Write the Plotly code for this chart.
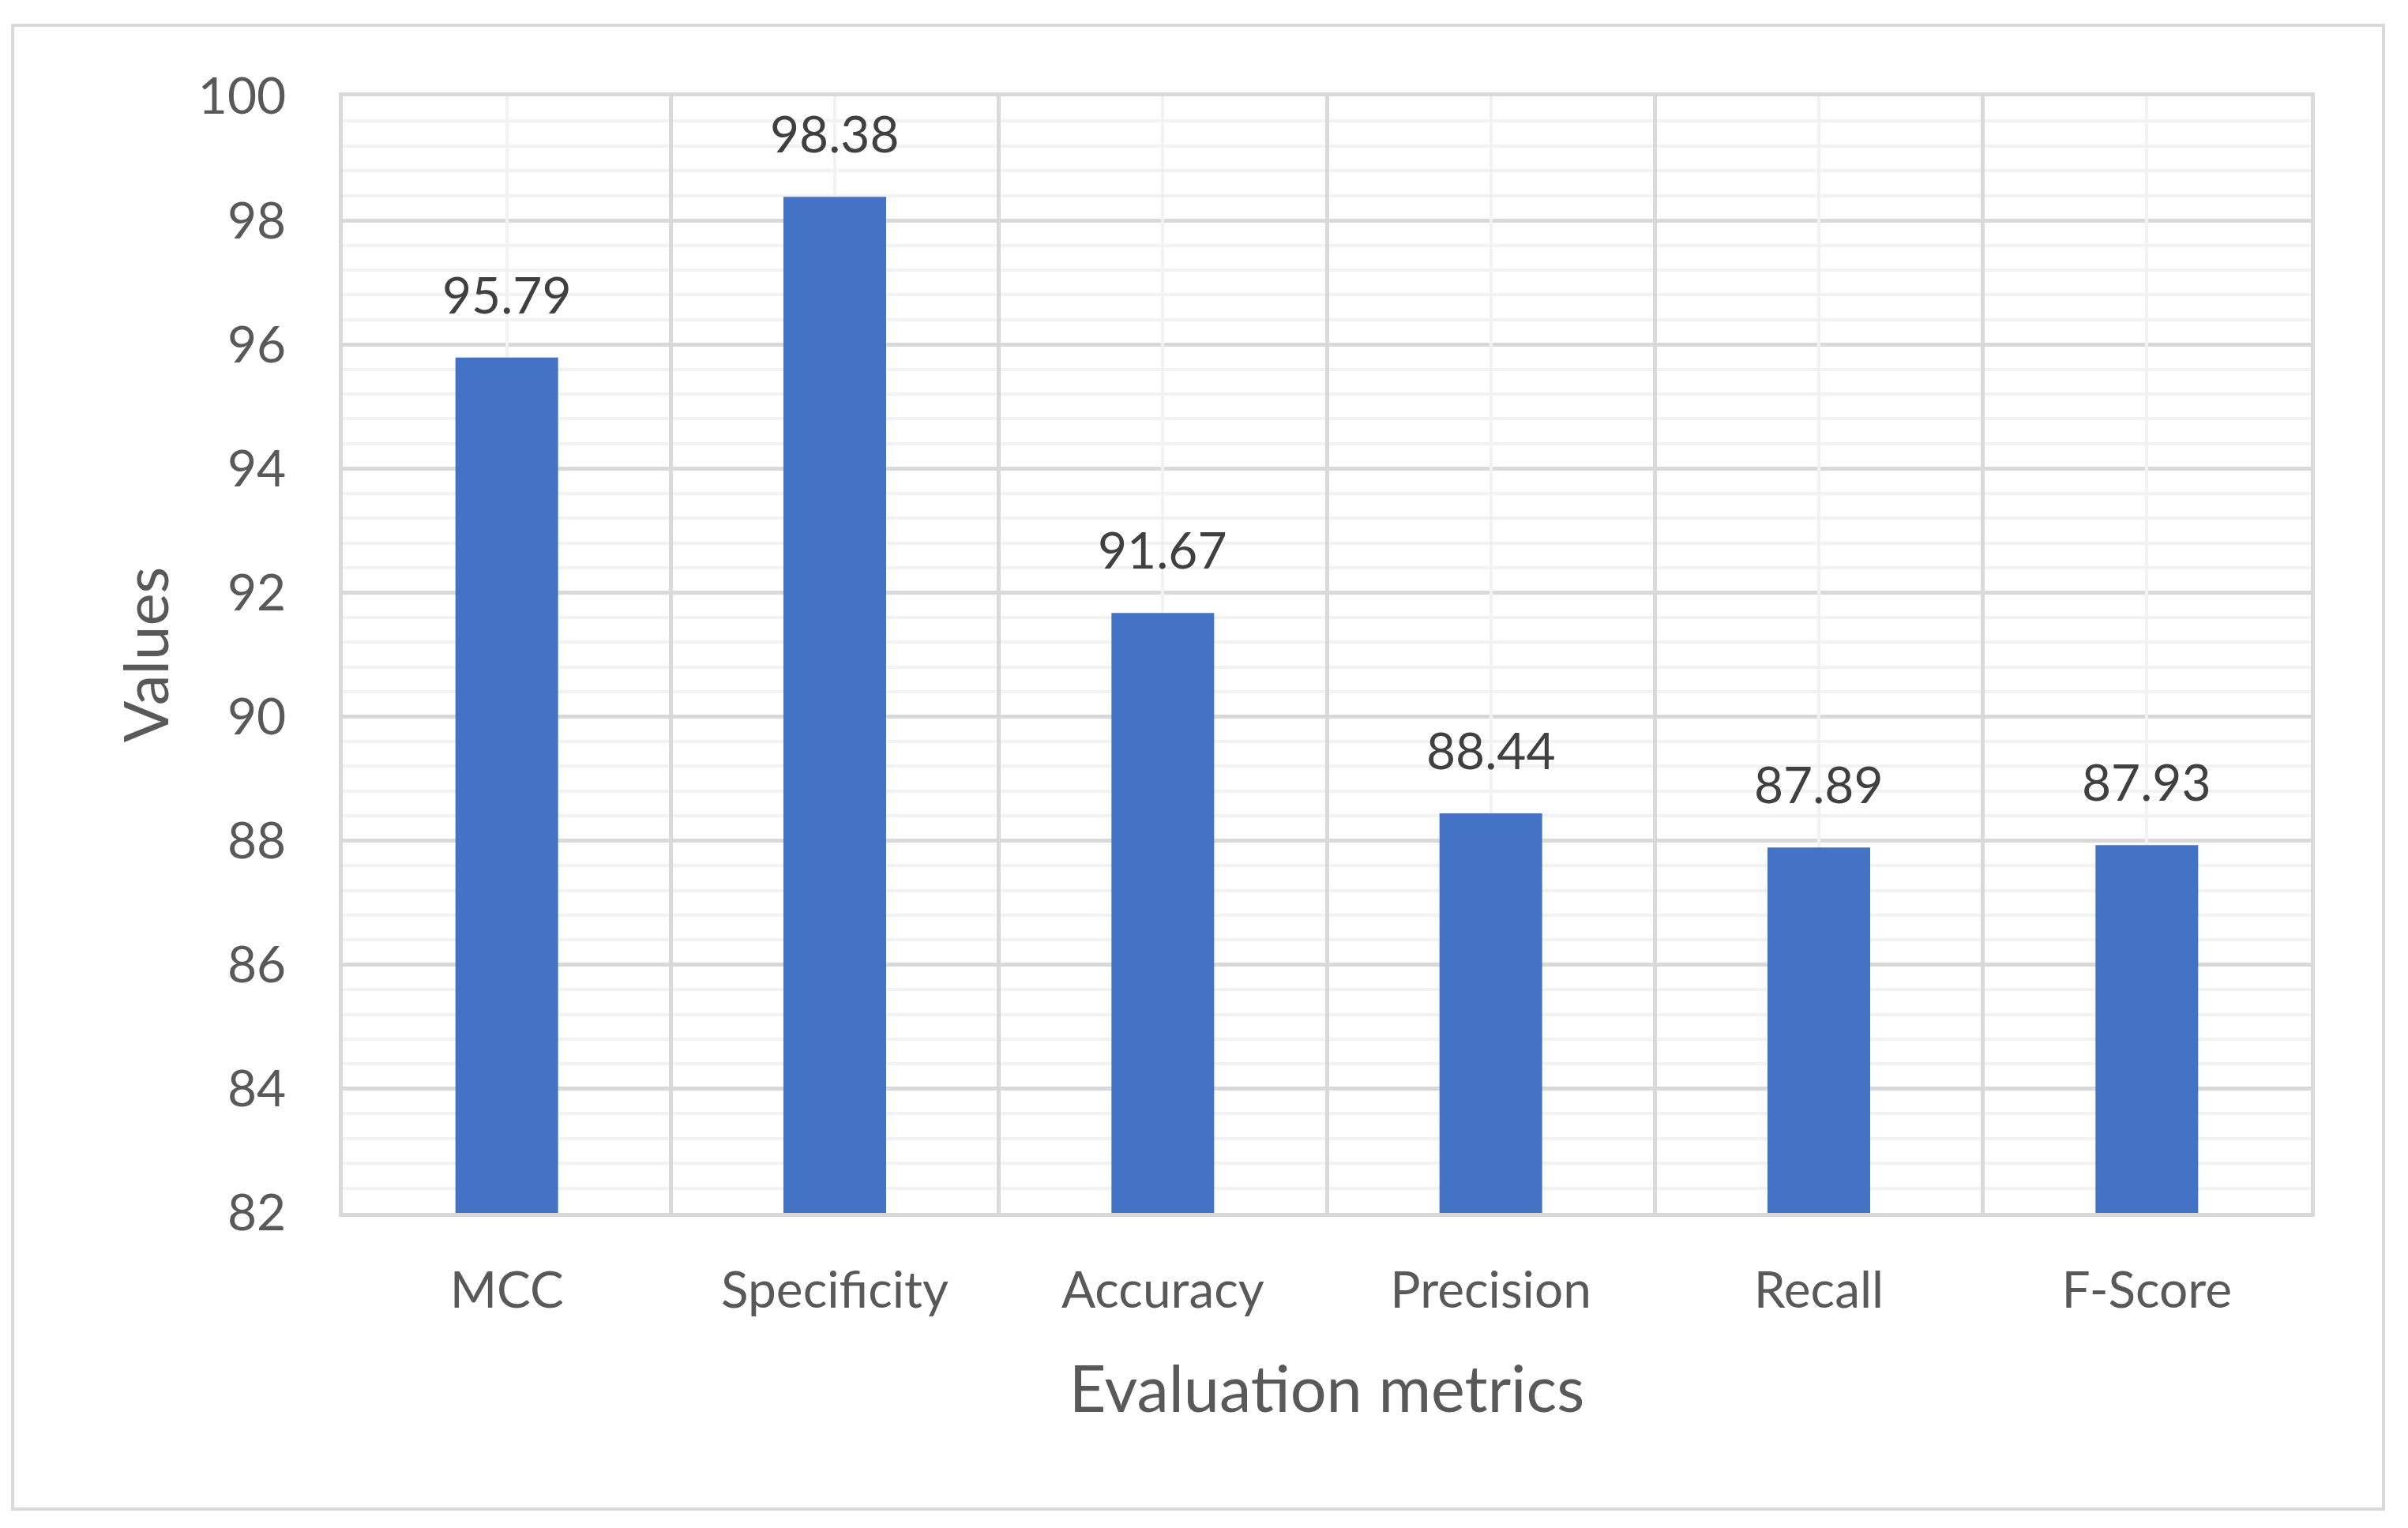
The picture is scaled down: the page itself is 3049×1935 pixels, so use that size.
import plotly.graph_objects as go

categories = ["MCC", "Specificity", "Accuracy", "Precision", "Recall", "F-Score"]
values = [95.79, 98.38, 91.67, 88.44, 87.89, 87.93]
value_labels = ["95.79", "98.38", "91.67", "88.44", "87.89", "87.93"]
y_ticks = [82, 84, 86, 88, 90, 92, 94, 96, 98, 100]

FONT = "Lato"
GRID_MAJOR = "#d9d9d9"
GRID_MINOR = "#f2f2f2"

fig = go.Figure()
fig.add_trace(go.Bar(x=categories, y=values, marker=dict(color="#4472C4", line=dict(width=0)),
                     showlegend=False, hoverinfo="skip"))
# invisible trace on overlay axis for centre gridlines
fig.add_trace(go.Bar(x=categories, y=[None]*len(categories), xaxis="x2", showlegend=False,
                     hoverinfo="skip"))

for c, v, t in zip(categories, values, value_labels):
    fig.add_annotation(x=c, y=v, text=t, showarrow=False, yanchor="bottom", yshift=40,
                       font=dict(family=FONT, size=64, color="#404040"))

fig.add_shape(type="rect", xref="paper", yref="paper", x0=-0.1677, x1=1.0369, y0=-0.2652, y1=1.0636,
              line=dict(color=GRID_MAJOR, width=4), fillcolor="rgba(0,0,0,0)", layer="below")

fig.update_layout(
    width=3049, height=1935,
    margin=dict(l=426, r=131, t=114, b=407),
    paper_bgcolor="white", plot_bgcolor="white",
    bargap=0.687,
    font=dict(family=FONT, color="#595959"),
    xaxis=dict(
        type="category", tickson="boundaries", showgrid=True, gridcolor=GRID_MAJOR, gridwidth=5,
        showline=True, linecolor=GRID_MAJOR, linewidth=5, mirror=True,
        ticks="", tickfont=dict(family=FONT, size=64, color="#595959"), ticklabelstandoff=38,
        title=dict(text="Evaluation metrics", font=dict(family=FONT, size=81, color="#595959"), standoff=64),
    ),
    xaxis2=dict(
        type="category", overlaying="x", matches="x", showgrid=True, gridcolor=GRID_MINOR, gridwidth=4,
        showticklabels=False, ticks="", showline=False, layer="below traces",
    ),
    yaxis=dict(
        range=[82, 100], tickvals=y_ticks, showgrid=True, gridcolor=GRID_MAJOR, gridwidth=5,
        zeroline=False, showline=True, linecolor=GRID_MAJOR, linewidth=5, mirror=True,
        minor=dict(dtick=0.4, tick0=82, showgrid=True, gridcolor=GRID_MINOR, gridwidth=4, ticks=""),
        ticks="", tickfont=dict(family=FONT, size=64, color="#595959"), ticklabelstandoff=54,
        title=dict(text="Values", font=dict(family=FONT, size=78, color="#595959"), standoff=13),
    ),
)

fig.write_html("out.html")
